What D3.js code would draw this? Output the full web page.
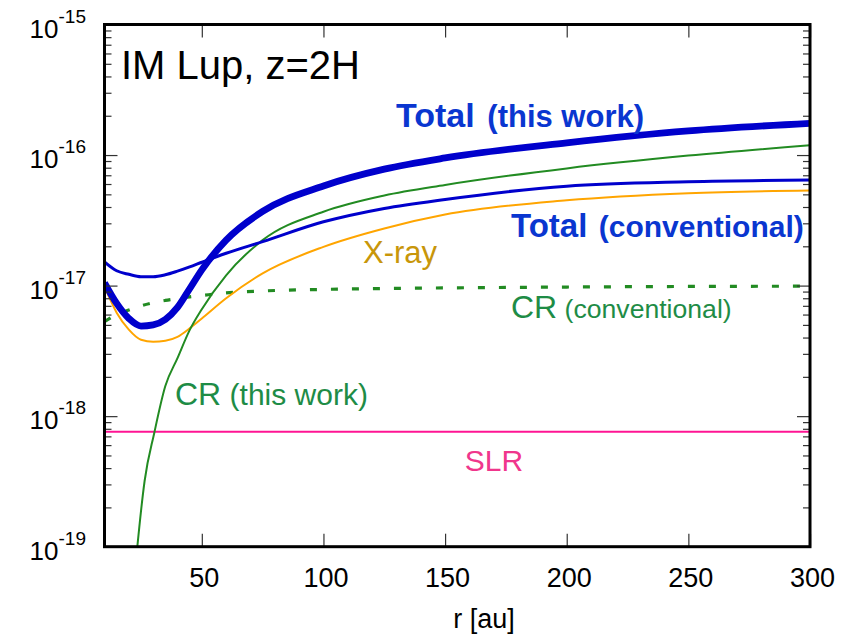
<!DOCTYPE html>
<html>
<head>
<meta charset="utf-8">
<script src="https://cdn.jsdelivr.net/npm/d3@7"></script>
<style>
  html, body { margin: 0; padding: 0; background: #fff; }
  svg { display: block; font-family: "Liberation Sans", Arial, Helvetica, sans-serif; }
</style>
</head>
<body>
<svg id="chart" width="855" height="640"></svg>
<script>
// Radial grid (au) shared by most curves
const radius = [10, 15, 20, 25, 30, 35, 40, 45, 50, 60, 75, 100, 125, 150, 200, 250, 300];

// Ionization rates [s^-1]
const totalThisWork     = [1.05e-17, 7.3e-18, 5.6e-18, 4.9e-18, 5.0e-18, 5.5e-18, 6.8e-18, 9.46e-18, 1.32e-17, 2.23e-17, 3.7e-17, 5.8e-17, 7.8e-17, 9.5e-17, 1.24e-16, 1.53e-16, 1.75e-16];
const totalConventional = [1.52e-17, 1.30e-17, 1.22e-17, 1.17e-17, 1.17e-17, 1.21e-17, 1.29e-17, 1.39e-17, 1.51e-17, 1.77e-17, 2.17e-17, 3.08e-17, 3.9e-17, 4.57e-17, 5.78e-17, 6.24e-17, 6.43e-17];
const xray              = [9.8e-18, 6.2e-18, 4.6e-18, 3.85e-18, 3.72e-18, 3.78e-18, 4.05e-18, 4.7e-18, 5.6e-18, 8.0e-18, 1.24e-17, 1.98e-17, 2.74e-17, 3.5e-17, 4.5e-17, 5.1e-17, 5.35e-17];
const crConventional    = [5.3e-18, 6.0e-18, 6.5e-18, 7.0e-18, 7.4e-18, 7.7e-18, 7.95e-18, 8.2e-18, 8.4e-18, 8.8e-18, 9.1e-18, 9.35e-18, 9.5e-18, 9.6e-18, 9.75e-18, 9.85e-18, 9.9e-18];

// CR (this work) drops steeply inside ~25 au, so it has its own grid
const crThisWorkR = [22, 23.5, 26.5, 30.5, 35, 40, 45, 50, 60, 75, 100, 125, 150, 200, 250, 300];
const crThisWork  = [5.0e-20, 1.0e-19, 3.2e-19, 7.5e-19, 1.7e-18, 2.78e-18, 4.56e-18, 6.6e-18, 1.2e-17, 2.23e-17, 3.68e-17, 4.9e-17, 5.9e-17, 7.9e-17, 9.9e-17, 1.19e-16];

// Short-lived radionuclides: flat
const slrR = [10, 300];
const slr  = [7.6e-19, 7.6e-19];

const xTicks = [50, 100, 150, 200, 250, 300];
const yMajorTicks = [1e-19, 1e-18, 1e-17, 1e-16, 1e-15];
const yTickExponents = ["-19", "-18", "-17", "-16", "-15"];

const svg = d3.select("#chart");
const L = 104.5, R = 810, T = 24.5, B = 546.7;

const x = d3.scaleLinear().domain([10, 300]).range([L, R]);
const y = d3.scaleLog().domain([1e-19, 1e-15]).range([B, T]);

// clip region for the curves
svg.append("defs").append("clipPath").attr("id", "plotClip")
  .append("rect").attr("x", L).attr("y", T).attr("width", R - L).attr("height", B - T);

const line = d3.line()
  .x(d => x(d[0]))
  .y(d => y(d[1]))
  .curve(d3.curveMonotoneX);

const zip = (xs, ys) => xs.map((v, i) => [v, ys[i]]);

const curves = svg.append("g").attr("clip-path", "url(#plotClip)");

curves.append("path").datum(zip(slrR, slr))
  .attr("d", line).attr("fill", "none").attr("stroke", "#ff1493").attr("stroke-width", 2);

curves.append("path").datum(zip(radius, crConventional))
  .attr("d", line).attr("fill", "none").attr("stroke", "#228b22").attr("stroke-width", 3.2)
  .attr("stroke-dasharray", "7,14");

curves.append("path").datum(zip(radius, xray))
  .attr("d", line).attr("fill", "none").attr("stroke", "#ffa500").attr("stroke-width", 2);

curves.append("path").datum(zip(crThisWorkR, crThisWork))
  .attr("d", line).attr("fill", "none").attr("stroke", "#228b22").attr("stroke-width", 2);

curves.append("path").datum(zip(radius, totalConventional))
  .attr("d", line).attr("fill", "none").attr("stroke", "#0000cc").attr("stroke-width", 3);

curves.append("path").datum(zip(radius, totalThisWork))
  .attr("d", line).attr("fill", "none").attr("stroke", "#0000cc").attr("stroke-width", 6.8);

// ---- axes: inward ticks on all four sides ----
const tickColor = "#333";
const minorY = y.ticks().filter(v => Math.abs(Math.log10(v) - Math.round(Math.log10(v))) > 1e-6);

function styleAxis(g) {
  g.select(".domain").remove();
  g.selectAll(".tick line").attr("stroke", tickColor).attr("stroke-width", 1.2);
  g.selectAll(".tick text").remove();
}

svg.append("g").attr("transform", `translate(0,${B})`)
  .call(d3.axisBottom(x).tickValues(xTicks).tickSize(-13)).call(styleAxis);
svg.append("g").attr("transform", `translate(0,${T})`)
  .call(d3.axisTop(x).tickValues(xTicks).tickSize(-13)).call(styleAxis);

svg.append("g").attr("transform", `translate(${L},0)`)
  .call(d3.axisLeft(y).tickValues(yMajorTicks).tickSize(-13)).call(styleAxis);
svg.append("g").attr("transform", `translate(${L},0)`)
  .call(d3.axisLeft(y).tickValues(minorY).tickSize(-7)).call(styleAxis);
svg.append("g").attr("transform", `translate(${R},0)`)
  .call(d3.axisRight(y).tickValues(yMajorTicks).tickSize(-13)).call(styleAxis);
svg.append("g").attr("transform", `translate(${R},0)`)
  .call(d3.axisRight(y).tickValues(minorY).tickSize(-7)).call(styleAxis);

// frame
svg.append("rect").attr("x", L).attr("y", T).attr("width", R - L).attr("height", B - T)
  .attr("fill", "none").attr("stroke", "#000").attr("stroke-width", 3);

// tick labels
svg.append("g").selectAll("text").data(xTicks).join("text")
  .attr("x", d => x(d) + 2.5).attr("y", 587)
  .attr("text-anchor", "middle").attr("font-size", 27).attr("fill", "#000")
  .text(d => d);

const yl = svg.append("g").selectAll("text").data(yMajorTicks).join("text")
  .attr("x", 86).attr("y", d => y(d) + 13)
  .attr("text-anchor", "end").attr("fill", "#000");
yl.append("tspan").attr("font-size", 26).text("10");
yl.append("tspan").attr("font-size", 19).attr("dy", -15).text((d, i) => yTickExponents[i]);

// axis title
svg.append("text").attr("x", 484).attr("y", 628).attr("text-anchor", "middle")
  .attr("font-size", 27).attr("fill", "#000").text("r [au]");

// panel title
svg.append("text").attr("x", 121).attr("y", 79).attr("font-size", 40).attr("fill", "#000")
  .text("IM Lup, z=2H");

// curve labels
const blueText = "#0a36d0";
const t1 = svg.append("text").attr("x", 396).attr("y", 127).attr("fill", blueText).attr("font-weight", "bold");
t1.append("tspan").attr("font-size", 34).text("Total");
t1.append("tspan").attr("font-size", 31).attr("dx", 4).text(" (this work)");

const t2 = svg.append("text").attr("x", 511).attr("y", 237).attr("fill", blueText).attr("font-weight", "bold");
t2.append("tspan").attr("font-size", 33).text("Total");
t2.append("tspan").attr("font-size", 30).attr("dx", 3).text(" (conventional)");

svg.append("text").attr("x", 363).attr("y", 263).attr("fill", "#c8960a").attr("font-size", 31).text("X-ray");

const t3 = svg.append("text").attr("x", 511).attr("y", 318).attr("fill", "#1e8c46");
t3.append("tspan").attr("font-size", 32).text("CR");
t3.append("tspan").attr("font-size", 26.6).text(" (conventional)");

const t4 = svg.append("text").attr("x", 175).attr("y", 405).attr("fill", "#1e8c46");
t4.append("tspan").attr("font-size", 32).text("CR");
t4.append("tspan").attr("font-size", 30).text(" (this work)");

svg.append("text").attr("x", 494).attr("y", 471).attr("text-anchor", "middle")
  .attr("fill", "#f0368c").attr("font-size", 30).text("SLR");
</script>
</body>
</html>
